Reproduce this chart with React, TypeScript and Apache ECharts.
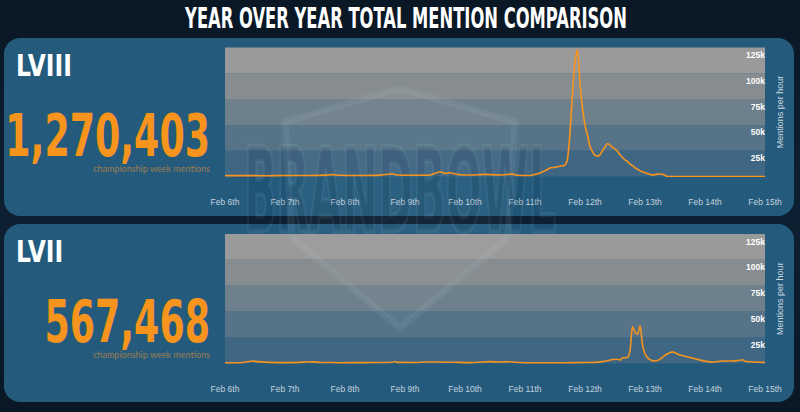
import React, { useEffect, useRef } from "react";
import * as echarts from "echarts";

// ---- data (hours since Feb 6th 00:00, mentions per hour) ----
const dayLabels = ["Feb 6th", "Feb 7th", "Feb 8th", "Feb 9th", "Feb 10th", "Feb 11th", "Feb 12th", "Feb 13th", "Feb 14th", "Feb 15th"];
const yTickLabels = ["", "25k", "50k", "75k", "100k", "125k"];

const lviiiHours = [0, 8, 16, 24, 32, 40, 43, 46, 54, 62, 67, 69, 76, 82, 86, 88, 90, 93, 98, 104, 110, 115, 117, 122, 124, 126, 128, 130, 132, 134, 136, 137, 138, 139, 140, 141, 142, 143, 144, 145, 146, 147, 148, 149, 150, 151, 152, 153, 154, 155, 156, 157, 158, 159, 160, 161, 162, 163, 164, 165, 166, 167, 168, 169, 170, 171, 172, 173, 174, 175, 176, 177, 216];
const lviiiMentions = [800, 900, 700, 1000, 900, 1300, 1800, 1200, 1000, 1300, 2600, 1400, 1200, 1500, 4600, 3000, 3600, 2000, 1400, 2100, 1500, 2300, 1200, 900, 2000, 3500, 5500, 8200, 9000, 10000, 11000, 17000, 42000, 80000, 112000, 123000, 90000, 66000, 50000, 40000, 29000, 24000, 20500, 20000, 21000, 25000, 28600, 32000, 30500, 28500, 26500, 24500, 21000, 18500, 16000, 14500, 12000, 10500, 8500, 7000, 5500, 4500, 3700, 2800, 2000, 1500, 1800, 2300, 2400, 2200, 1000, 0, 0];

const lviiHours = [0, 6, 9, 11, 13, 18, 26, 33, 35, 38, 46, 56, 64, 67, 68, 69, 76, 80, 86, 92, 98, 104, 106, 110, 114, 116, 120, 128, 136, 144, 148, 151, 153, 155, 157, 158, 159, 161, 162, 163, 164, 165, 166, 167, 168, 169, 170, 171, 172, 173, 174, 175, 176, 177, 178, 179, 180, 182, 184, 187, 189, 191, 193, 195, 197, 199, 203, 205, 207, 208, 210, 214, 216];
const lviiMentions = [500, 600, 1500, 2200, 1600, 900, 700, 1200, 1400, 900, 600, 700, 800, 1000, 1800, 900, 800, 1200, 1300, 1000, 700, 1300, 1600, 1200, 1500, 1000, 600, 500, 600, 800, 900, 1600, 2500, 3600, 3900, 3200, 5300, 5500, 12000, 35500, 30000, 28000, 36400, 18000, 9000, 5500, 3500, 2600, 2200, 2600, 4000, 5800, 7800, 9300, 10300, 11000, 10200, 8000, 6800, 5000, 3800, 2600, 1700, 1000, 1600, 2200, 2200, 2600, 3500, 2000, 1500, 1000, 800];

const panels = [
  { edition: "LVIII", total: "1,270,403" },
  { edition: "LVII", total: "567,468" },
];

const pairs = (h: number[], v: number[]) => h.map((x, i) => [x, v[i]]);

const BOLDFONT = "'DejaVu Sans', sans-serif";
const ORANGE = "#f7941d";
const BANDS = ["#3f6683", "#567387", "#6e808b", "#868c90", "#9a9a9a"];

const txt = (text: string, x: number, y: number, font: string, fill: string, align: string, scaleX = 1, z = 5, extra: any = {}) => ({
  type: "text",
  z,
  x,
  y,
  scaleX,
  silent: true,
  style: { text, x: 0, y: 0, font, fill, align, verticalAlign: "middle", textAlign: align, textVerticalAlign: "middle", ...extra },
});

export default function App() {
  const ref = useRef<HTMLDivElement>(null);
  useEffect(() => {
    const chart = echarts.init(ref.current!, null, { renderer: "svg" });
    const grids = [
      { left: 225, right: 35, top: 47.5, height: 129 },
      { left: 225, right: 35, top: 234, height: 129.3 },
    ];
    const xAxes = grids.map((_, i) => ({
      type: "value",
      gridIndex: i,
      min: 0,
      max: 216,
      interval: 24,
      axisLine: { show: false },
      axisTick: { show: false },
      splitLine: { show: false },
      axisLabel: {
        color: "#c3d1dc",
        fontSize: 8.5,
        fontFamily: "'Liberation Sans', sans-serif",
        margin: 21,
        formatter: (v: number) => dayLabels[Math.round(v / 24)] ?? "",
      },
    }));
    const yAxes = grids.map((_, i) => ({
      type: "value",
      gridIndex: i,
      min: 0,
      max: 125000,
      interval: 25000,
      position: "right",
      axisLine: { show: false },
      axisTick: { show: false },
      splitLine: { show: false },
      splitArea: { show: true, areaStyle: { color: BANDS } },
      axisLabel: {
        inside: true,
        margin: 0,
        color: "#ffffff",
        fontWeight: "bold",
        fontSize: 8.5,
        fontFamily: "'Liberation Sans', sans-serif",
        verticalAlign: "top",
        padding: [3, 0, 0, 0],
        formatter: (v: number) => yTickLabels[Math.round(v / 25000)] ?? "",
      },
      name: "Mentions per hour",
      nameLocation: "middle",
      nameRotate: 90,
      nameGap: 10,
      nameTextStyle: { color: "#c9d6df", fontSize: 9, fontFamily: "'Liberation Sans', sans-serif" },
    }));

    const graphic: any[] = [];
    const panelTops = [38, 224];
    panelTops.forEach((t) => {
      graphic.push({ type: "rect", z: -10, silent: true, shape: { x: 4, y: t, width: 790, height: 178, r: 16 }, style: { fill: "#245b7d" } });
    });
    // watermark
    graphic.push({
      type: "polygon",
      z: 1,
      shape: { points: [[400, 88], [515, 122], [508, 238], [400, 328], [292, 238], [285, 122]] },
      style: { fill: "rgba(255,255,255,0.035)", stroke: "rgba(200,225,240,0.08)", lineWidth: 7 },
      silent: true,
    });
    graphic.push(
      txt("BRANDBOWL", 400, 191, `bold 115px ${BOLDFONT}`, "rgba(15,45,70,0.14)", "center", 0.37, 1, {
        stroke: "rgba(200,225,240,0.08)",
        lineWidth: 5,
      })
    );
    graphic.push(txt("YEAR OVER YEAR TOTAL MENTION COMPARISON", 406, 18, `bold 28px ${BOLDFONT}`, "#ffffff", "center", 0.584));
    panels.forEach((p, i) => {
      const t = panelTops[i];
      graphic.push(txt(p.edition, 16, t + 27, `bold 30px ${BOLDFONT}`, "#ffffff", "left", 0.78));
      graphic.push(txt(p.total, 210, t + 98, `bold 58px ${BOLDFONT}`, ORANGE, "right", 0.627));
      graphic.push(txt("championship week mentions", 210, t + 130, `9px Lato, sans-serif`, "#9f7b50", "right"));
    });

    chart.setOption({
      animation: false,
      backgroundColor: {
        type: "linear", x: 0, y: 0, x2: 0, y2: 1,
        colorStops: [{ offset: 0, color: "#0a1725" }, { offset: 0.5, color: "#0d2031" }, { offset: 1, color: "#0a1725" }],
      },
      grid: grids,
      xAxis: xAxes,
      yAxis: yAxes,
      graphic,
      series: [
        { type: "line", xAxisIndex: 0, yAxisIndex: 0, data: pairs(lviiiHours, lviiiMentions), showSymbol: false, smooth: 0.2, z: 3, lineStyle: { color: ORANGE, width: 1.6 } },
        { type: "line", xAxisIndex: 1, yAxisIndex: 1, data: pairs(lviiHours, lviiMentions), showSymbol: false, smooth: 0.2, z: 3, lineStyle: { color: ORANGE, width: 1.6 } },
      ],
    });
    return () => chart.dispose();
  }, []);
  return <div ref={ref} style={{ position: "fixed", left: 0, top: 0, width: 800, height: 412 }} />;
}
